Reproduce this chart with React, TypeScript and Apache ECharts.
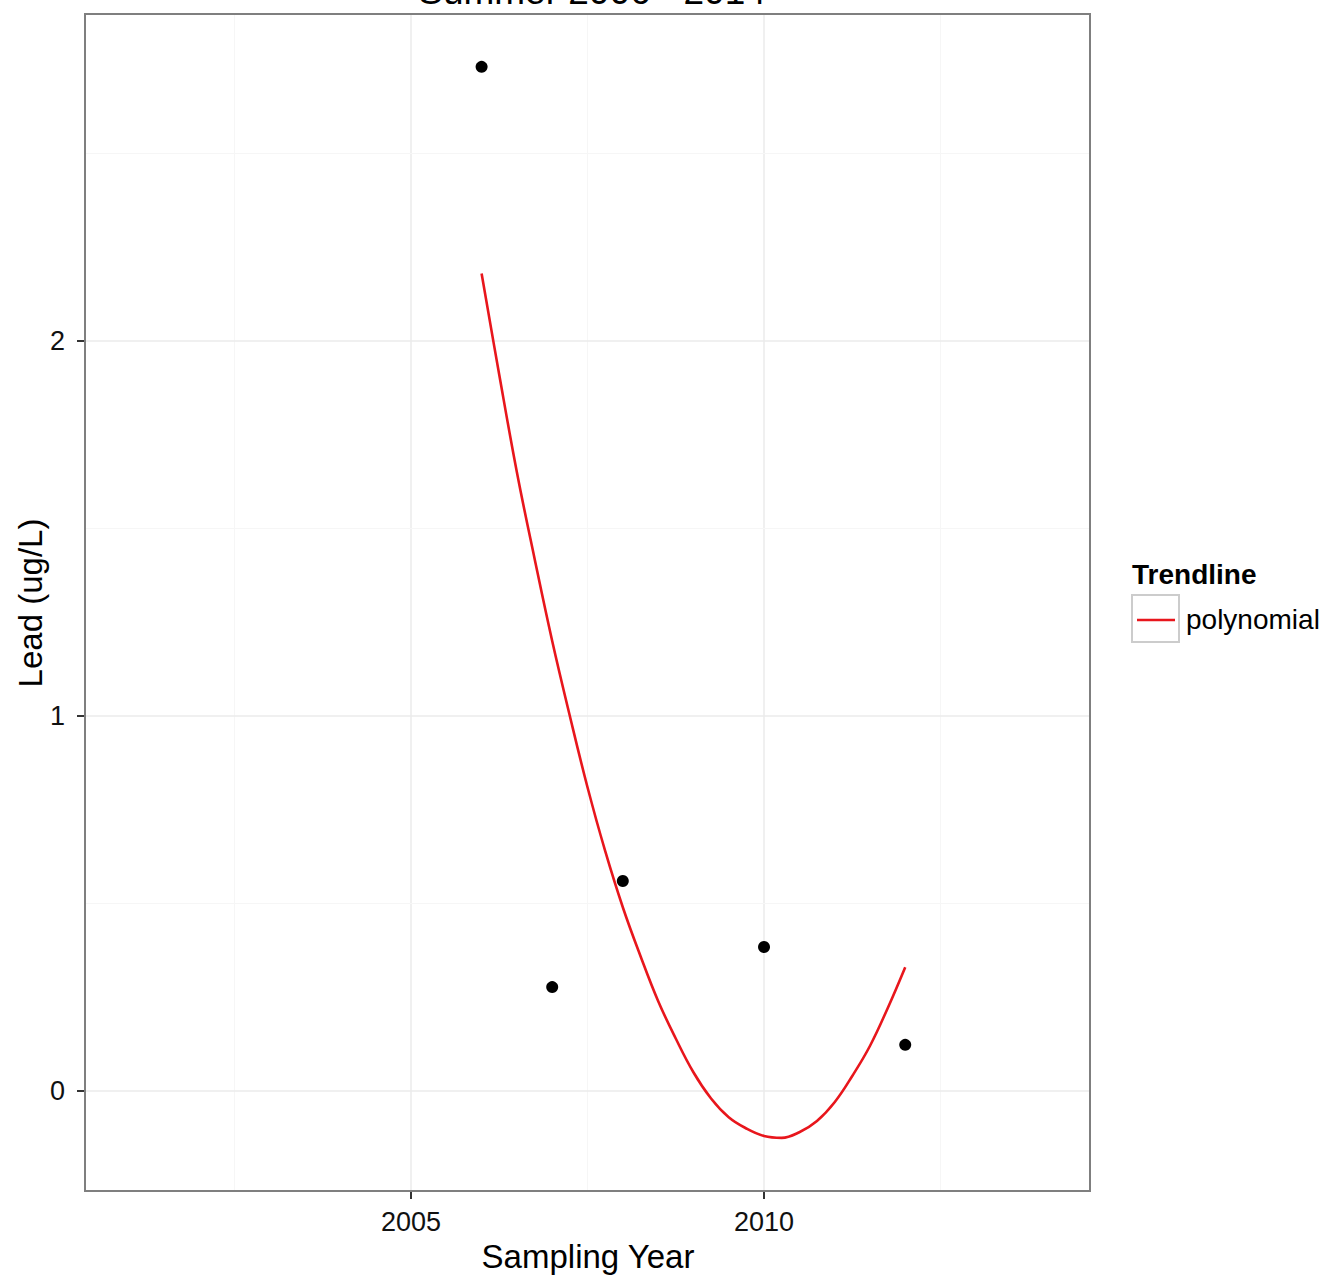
import React, { useEffect, useRef } from "react";
import * as echarts from "echarts";

const pointYears = [2006, 2007, 2008, 2010, 2012];
const pointValues = [2.731, 0.277, 0.56, 0.384, 0.123];

const trendYears = [
  2006, 2006.25, 2006.5, 2006.75, 2007, 2007.25, 2007.5, 2007.75, 2008, 2008.25, 2008.5, 2008.75,
  2009, 2009.25, 2009.5, 2009.75, 2010, 2010.25, 2010.5, 2010.75, 2011, 2011.25, 2011.5, 2011.75, 2012,
];
const trendValues = [
  2.18, 1.91, 1.65, 1.42, 1.2, 1.0, 0.81, 0.64, 0.49, 0.36, 0.24, 0.14,
  0.05, -0.02, -0.07, -0.1, -0.12, -0.125, -0.11, -0.08, -0.03, 0.04, 0.12, 0.22, 0.33,
];

const xTicks = [2005, 2010];
const xMinorGrid = [2002.5, 2007.5, 2012.5];
const yTicks = [0, 1, 2];
const yMinorGrid = [0.5, 1.5, 2.5];

const X_MIN = 2000.383;
const X_MAX = 2014.617;
const Y_MIN = -0.2667;
const Y_MAX = 2.872;

const FONT = "'Liberation Sans', Arial, Helvetica, sans-serif";
const RED = "#e8161c";

export default function App() {
  const ref = useRef<HTMLDivElement>(null);
  useEffect(() => {
    if (!ref.current) return;
    const chart = echarts.init(ref.current, undefined, { renderer: "svg" });
    const major = { color: "#ebebeb", width: 1.5, type: "solid" };
    const minor = { color: "#f6f6f6", width: 1, type: "solid" };
    const gridLines = [
      ...xTicks.map((v) => ({ xAxis: v, lineStyle: major })),
      ...xMinorGrid.map((v) => ({ xAxis: v, lineStyle: minor })),
      ...yTicks.map((v) => ({ yAxis: v, lineStyle: major })),
      ...yMinorGrid.map((v) => ({ yAxis: v, lineStyle: minor })),
    ];
    chart.setOption({
      animation: false,
      backgroundColor: "#ffffff",
      textStyle: { fontFamily: FONT },
      grid: {
        left: 85,
        top: 14,
        right: 235,
        bottom: 85,
        show: true,
        borderColor: "#7f7f7f",
        borderWidth: 2,
        backgroundColor: "transparent",
        z: 10,
      },
      xAxis: {
        type: "value",
        min: X_MIN,
        max: X_MAX,
        splitLine: { show: false },
        axisLine: { show: false, onZero: false },
        axisTick: { show: true, length: 8, lineStyle: { color: "#333", width: 2 }, customValues: xTicks },
        axisLabel: {
          customValues: xTicks,
          fontSize: 27,
          color: "#111",
          margin: 17,
          fontFamily: FONT,
          formatter: (v: number) => String(Math.round(v)),
        },
      },
      yAxis: {
        type: "value",
        min: Y_MIN,
        max: Y_MAX,
        splitLine: { show: false },
        axisLine: { show: false, onZero: false },
        axisTick: { show: true, length: 8, lineStyle: { color: "#333", width: 2 }, customValues: yTicks },
        axisLabel: {
          customValues: yTicks,
          fontSize: 27,
          color: "#111",
          margin: 20,
          fontFamily: FONT,
          formatter: (v: number) => String(Math.round(v)),
        },
      },
      series: [
        {
          type: "line",
          name: "grid",
          data: [],
          silent: true,
          markLine: {
            silent: true,
            z: 1,
            symbol: ["none", "none"],
            label: { show: false },
            data: gridLines,
          },
        },
        {
          type: "line",
          name: "polynomial",
          data: trendYears.map((y, i) => [y, trendValues[i]]),
          smooth: 0.4,
          showSymbol: false,
          lineStyle: { color: RED, width: 2.6 },
          itemStyle: { color: RED },
          z: 3,
        },
        {
          type: "scatter",
          name: "points",
          data: pointYears.map((y, i) => [y, pointValues[i]]),
          symbolSize: 12,
          itemStyle: { color: "#000", opacity: 1 },
          z: 4,
        },
      ],
      graphic: [
        {
          type: "text",
          x: 592,
          y: -9,
          style: {
            text: "Summer 2006 - 2014",
            fontSize: 37,
            fontFamily: FONT,
            fill: "#000",
            textAlign: "center",
            textVerticalAlign: "middle",
          },
        },
        {
          type: "text",
          x: 588,
          y: 1256,
          style: {
            text: "Sampling Year",
            fontSize: 33,
            fontFamily: FONT,
            fill: "#000",
            textAlign: "center",
            textVerticalAlign: "middle",
          },
        },
        {
          type: "text",
          x: 30,
          y: 603,
          rotation: Math.PI / 2,
          style: {
            text: "Lead (ug/L)",
            fontSize: 33,
            fontFamily: FONT,
            fill: "#000",
            textAlign: "center",
            textVerticalAlign: "middle",
          },
        },
        {
          type: "text",
          x: 1132,
          y: 574,
          style: {
            text: "Trendline",
            fontSize: 28,
            fontWeight: "bold",
            fontFamily: FONT,
            fill: "#000",
            textAlign: "left",
            textVerticalAlign: "middle",
          },
        },
        {
          type: "rect",
          shape: { x: 1132, y: 595, width: 47, height: 47 },
          style: { fill: "#fff", stroke: "#cccccc", lineWidth: 2 },
        },
        {
          type: "line",
          shape: { x1: 1137, y1: 620, x2: 1175, y2: 620 },
          style: { stroke: RED, lineWidth: 2.6 },
        },
        {
          type: "text",
          x: 1186,
          y: 619,
          style: {
            text: "polynomial",
            fontSize: 28,
            fontFamily: FONT,
            fill: "#000",
            textAlign: "left",
            textVerticalAlign: "middle",
          },
        },
      ],
    });
    return () => chart.dispose();
  }, []);
  return (
    <div
      ref={ref}
      style={{ position: "absolute", left: 0, top: 0, width: 1325, height: 1276, background: "#fff" }}
    />
  );
}
